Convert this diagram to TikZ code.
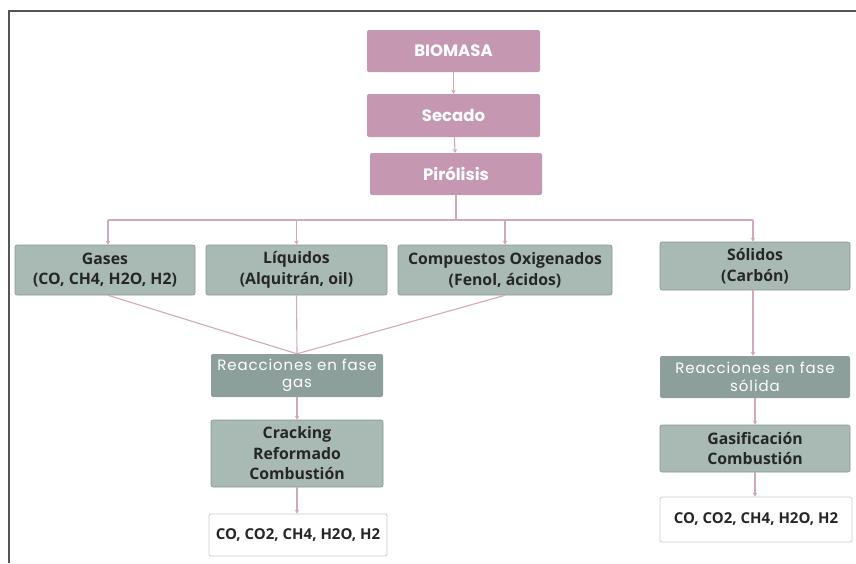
\documentclass[tikz,border=0pt]{standalone}
\usepackage{fontspec}
\setmainfont{Open Sans}
\newfontfamily\geo{Poppins}
\newfontfamily\geowide[LetterSpace=6]{Poppins}
\usetikzlibrary{arrows.meta}
\definecolor{pinkbox}{HTML}{C597B0}
\definecolor{lightbox}{HTML}{A8BAB3}
\definecolor{darkbox}{HTML}{8C9F9A}
\definecolor{linkc}{HTML}{D3A8B9}
\definecolor{framec}{HTML}{555555}
\tikzset{
  base/.style={rectangle, rounded corners=2pt, inner sep=0pt, align=center},
  pinkstep/.style={base, fill=pinkbox, text=white, font=\geo\bfseries\fontsize{16.5}{19}\selectfont},
  lightstep/.style={base, fill=lightbox, draw=lightbox!80!black, line width=0.6pt, text=black!85, font=\bfseries\fontsize{15.8}{20.5}\selectfont},
  darkstep/.style={base, fill=darkbox, text=white, font=\geowide\fontsize{15}{17.5}\selectfont},
  outstep/.style={base, fill=white, draw=black!20, line width=0.8pt, text=black!85, font=\bfseries\fontsize{15}{18}\selectfont},
  link/.style={draw=linkc, line width=1.1pt},
  arr/.style={link, -{Stealth[length=4pt,width=4.5pt]}},
}
\begin{document}
\begin{tikzpicture}[x=1pt,y=-1pt]
\useasboundingbox (0,0) rectangle (856,563);
\draw[framec, line width=1.6pt] (9,563) -- (9,11) -- (856,11);

\node[pinkstep, minimum width=173pt, minimum height=42pt] (bio) at (453.5,51) {BIOMASA};
\node[pinkstep, minimum width=173pt, minimum height=43pt] (sec) at (453.5,115.5) {Secado};
\node[pinkstep, minimum width=172pt, minimum height=42pt] (pir) at (456,174) {Pirólisis};

\node[lightstep, minimum width=180pt, minimum height=50pt] (gas) at (105,270) {Gases\\(CO, CH4, H2O, H2)};
\node[lightstep, minimum width=181pt, minimum height=50pt] (liq) at (296.5,270) {Líquidos\\(Alquitrán, oil)};
\node[lightstep, minimum width=214pt, minimum height=50pt] (comp) at (505,270) {Compuestos Oxigenados\\(Fenol, ácidos)};
\node[lightstep, minimum width=190pt, minimum height=48pt] (sol) at (755,266) {Sólidos\\(Carbón)};

\node[darkstep, minimum width=172pt, minimum height=43pt] (rg) at (297,375.5) {Reacciones en fase\\gas};
\node[darkstep, minimum width=190pt, minimum height=42pt] (rs) at (755,377) {Reacciones en fase\\sólida};

\node[lightstep, minimum width=172pt, minimum height=67pt] (crack) at (297,453.5) {Cracking\\Reformado\\Combustión};
\node[lightstep, minimum width=190pt, minimum height=47pt] (gasif) at (755,448.5) {Gasificación\\Combustión};

\node[outstep, minimum width=178pt, minimum height=42pt] (out1) at (298,535) {CO, CO2, CH4, H2O, H2};
\node[outstep, minimum width=192pt, minimum height=45pt] (out2) at (756,519.5) {CO, CO2, CH4, H2O, H2};

\coordinate (hl) at (108,220);
\coordinate (hr) at (753,220);
\draw[arr] (bio) -- (sec);
\draw[arr] (sec) -- (pir);
\draw[link] (pir.south) -- (pir.south |- hl);
\draw[link] (hl) -- (hr);
\draw[arr] (hl) -- (hl |- gas.north);
\draw[arr] (liq.north |- hl) -- (liq.north);
\draw[arr] (comp.north |- hl) -- (comp.north);
\draw[arr] (hr) -- (hr |- sol.north);

\draw[link] (gas.south -| hl) -- (rg.north);
\draw[link] (liq.south) -- (rg.north);
\draw[link] (comp.south) -- (rg.north);
\draw[arr] (rg) -- (crack);
\draw[arr] (crack) -- (out1.north -| crack);

\draw[arr] (sol.south -| hr) -- (rs.north -| hr);
\draw[arr] (rs) -- (gasif);
\draw[arr] (gasif) -- (out2.north -| gasif);
\end{tikzpicture}
\end{document}
